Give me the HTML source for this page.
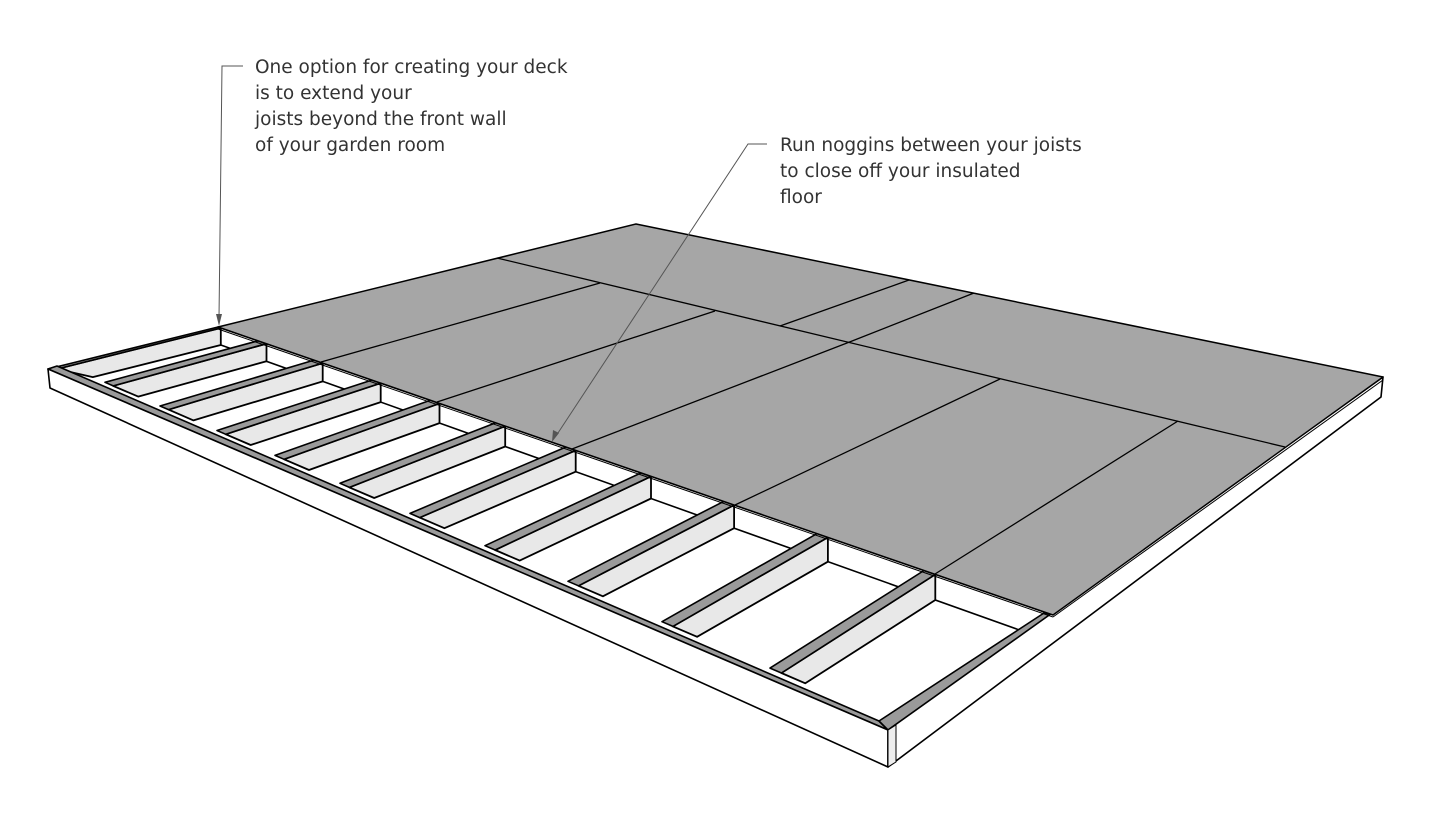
<!DOCTYPE html>
<html><head><meta charset="utf-8">
<style>
html,body{margin:0;padding:0;background:#fff;}
body{width:1431px;height:817px;overflow:hidden;position:relative;}
.t{position:absolute;font-family:"DejaVu Sans","Liberation Sans",sans-serif;font-size:18.5px;line-height:26px;color:#333;white-space:nowrap;}
svg{position:absolute;left:0;top:0;}
</style></head>
<body>
<svg id="s" width="1431" height="817" viewBox="0 0 1431 817" xmlns="http://www.w3.org/2000/svg"></svg>
<div class="t" style="left:255px;top:55px;">One option for creating your deck<br>is to extend your<br>joists beyond the front wall<br>of your garden room</div>
<div class="t" style="left:780px;top:133px;">Run noggins between your joists<br>to close off your insulated<br>floor</div>
<script>
var s=document.getElementById('s');var out='';
function P(a){return a.map(function(p){return p[0].toFixed(1)+','+p[1].toFixed(1)}).join(' ');}
function poly(a,fill,sw){out+='<polygon points="'+P(a)+'" fill="'+fill+'" stroke="#000" stroke-width="'+(sw||1)+'" stroke-linejoin="round"/>';}
function line(a,b,c,w){out+='<line x1="'+a[0]+'" y1="'+a[1]+'" x2="'+b[0]+'" y2="'+b[1]+'" stroke="'+(c||'#000')+'" stroke-width="'+(w||1)+'"/>';}
function add(a,b){return [a[0]+b[0],a[1]+b[1]];}
function sub(a,b){return [a[0]-b[0],a[1]-b[1]];}
function mul(a,k){return [a[0]*k,a[1]*k];}
function inter(p,d,q,e){var den=d[0]*e[1]-d[1]*e[0];var w=sub(q,p);var t=(w[0]*e[1]-w[1]*e[0])/den;return add(p,mul(d,t));}
var L=[48,369],F=[888,730],B=[636,224],R=[1383,377];
var S0=[218,327],S1=[1053,615];var SE=sub(S1,S0);
var FL=sub(F,L);
function fin(t){return add(add(L,mul(FL,t)),[5,-9]);}
function dir(t){return sub(add(B,mul(sub(R,B),t)),add(L,mul(FL,t)));}
var hh=function(x){return 17+10*(x-218)/835;};
poly([S0,S1,[S1[0],S1[1]+hh(S1[0])],[S0[0],S0[1]+hh(S0[0])]],'#fff',1.6);
var xs=[48,100,155,212,270,335,405,480,563,657,765];
xs.forEach(function(x,i){
  var t0=(x-48)/840, dt=(8+4*t0)/840;
  var a=fin(t0), b=fin(t0+dt);
  if(i==0){a=L;b=add(L,[9,0]);}
  var da=dir(t0), db=dir(t0+dt);
  var a2=inter(a,da,S0,SE), b2=inter(b,db,S0,SE);
  var h=hh(b2[0]);
  var b3=[b2[0],b2[1]+h];
  var c=inter(b3,db,fin(0),FL);
  poly([b,b2,b3,c],'#e8e8e8',1.8);
  poly([a,b,b2,a2],'#9a9a9a',1.6);
  line(b2,b3,'#000',1);
});
var Fc=add(F,[-9,-9]),Lc=add(L,[9,-3]);
poly([L,F,Fc,Lc],'#9a9a9a',1.6);
poly([Fc,F,S1,add(S1,[-9,-2])],'#9a9a9a',1.6);
poly([L,F,[F[0],F[1]+37],[L[0]+2,L[1]+19]],'#fff',1.6);
poly([F,R,[R[0]-2,R[1]+20],[F[0],F[1]+37]],'#fff',1.6);
poly([F,[F[0]+8,F[1]-5],[F[0]+8,F[1]+32],[F[0],F[1]+37]],'#eee',1);
poly([S0,B,R,S1],'#a6a6a6',1.5);
line([S0[0],S0[1]+2],[S1[0],S1[1]+2],'#000',1);
line([S1[0],S1[1]+2],[R[0],R[1]+3],'#000',1);
var sl=[[[497,258],[1285,447]],[[321,362],[600,283]],[[437,402],[715,311]],[[572,449],[847,343]],[[735,505],[1000,379]],[[935,574],[1178,421]],[[780,326],[909,280]],[[847,343],[974,293]]];
sl.forEach(function(l){line(l[0],l[1],'#000',1.3);});
out+='<polyline points="243,66 222,66 219,318" fill="none" stroke="#555" stroke-width="1"/>';
out+='<polygon points="219,326 216,314 222,314" fill="#555"/>';
out+='<polyline points="767,144 748,144 556,436" fill="none" stroke="#555" stroke-width="1"/>';
out+='<polygon points="552,442 553,430 559,433" fill="#555"/>';
s.innerHTML=out;
</script>
</body></html>
